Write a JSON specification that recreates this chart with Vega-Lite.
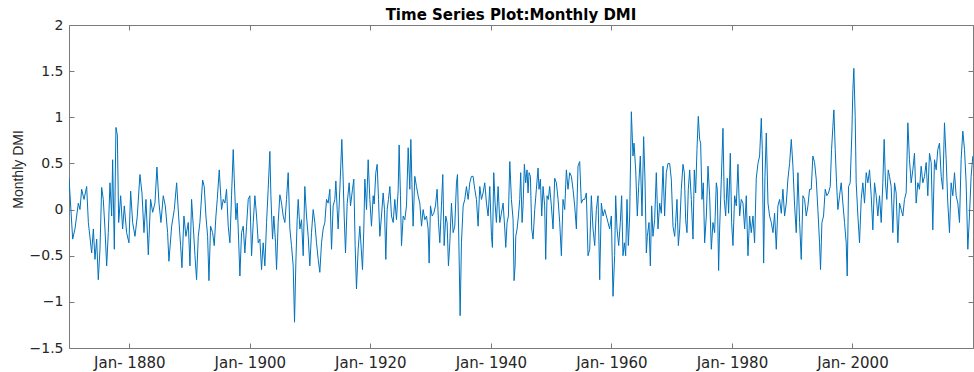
{
"$schema":"https://vega.github.io/schema/vega-lite/v6.json",
"width":904,"height":323,
"autosize":{"type":"none"},
"padding":{"left":69,"top":25,"right":1,"bottom":24},
"background":"white",
"config":{"view":{"stroke":null},"font":"DejaVu Sans"},
"title":{"text":"Time Series Plot:Monthly DMI","font":"DejaVu Sans","fontSize":15,"fontWeight":"bold","color":"#000000","anchor":"middle","dx":-10,"dy":21,"offset":4,"baseline":"alphabetic"},
"data":{"values":[
{"t":1870.0,"v":0.34},{"t":1870.61,"v":-0.32},{"t":1870.99,"v":-0.21},{"t":1871.55,"v":0.07},{"t":1871.82,"v":0.0},{"t":1872.1,"v":0.22},{"t":1872.49,"v":0.11},{"t":1872.93,"v":0.25},{"t":1873.21,"v":-0.14},{"t":1873.76,"v":-0.47},{"t":1874.04,"v":-0.21},{"t":1874.31,"v":-0.54},{"t":1874.59,"v":-0.32},{"t":1874.86,"v":-0.76},{"t":1875.14,"v":-0.43},{"t":1875.42,"v":0.24},{"t":1875.69,"v":0.11},{"t":1875.97,"v":-0.21},{"t":1876.25,"v":-0.61},{"t":1876.52,"v":-0.25},{"t":1876.8,"v":0.29},{"t":1877.08,"v":-0.07},{"t":1877.24,"v":0.54},{"t":1877.52,"v":-0.43},{"t":1877.79,"v":0.89},{"t":1878.02,"v":0.81},{"t":1878.24,"v":-0.14},{"t":1878.57,"v":0.15},{"t":1878.9,"v":-0.21},{"t":1879.18,"v":0.04},{"t":1879.56,"v":-0.25},{"t":1879.95,"v":-0.36},{"t":1880.23,"v":0.2},{"t":1880.56,"v":-0.14},{"t":1880.95,"v":-0.29},{"t":1881.33,"v":-0.07},{"t":1881.77,"v":0.38},{"t":1882.11,"v":0.18},{"t":1882.44,"v":-0.25},{"t":1882.77,"v":0.11},{"t":1883.16,"v":-0.49},{"t":1883.54,"v":0.11},{"t":1883.88,"v":-0.03},{"t":1884.26,"v":0.07},{"t":1884.59,"v":0.46},{"t":1884.93,"v":0.07},{"t":1885.26,"v":-0.14},{"t":1885.64,"v":0.15},{"t":1885.98,"v":0.04},{"t":1886.36,"v":-0.25},{"t":1886.58,"v":-0.56},{"t":1887.03,"v":-0.18},{"t":1887.47,"v":0.0},{"t":1887.86,"v":0.29},{"t":1888.19,"v":-0.07},{"t":1888.52,"v":-0.39},{"t":1888.74,"v":-0.63},{"t":1889.07,"v":-0.07},{"t":1889.4,"v":-0.29},{"t":1889.79,"v":-0.14},{"t":1890.07,"v":-0.61},{"t":1890.34,"v":0.11},{"t":1890.62,"v":-0.18},{"t":1890.9,"v":-0.5},{"t":1891.17,"v":-0.76},{"t":1891.45,"v":-0.29},{"t":1891.72,"v":-0.14},{"t":1892.17,"v":0.32},{"t":1892.44,"v":0.25},{"t":1892.72,"v":-0.07},{"t":1893.0,"v":-0.29},{"t":1893.22,"v":-0.77},{"t":1893.49,"v":-0.18},{"t":1893.83,"v":-0.25},{"t":1894.1,"v":-0.39},{"t":1894.38,"v":-0.07},{"t":1894.6,"v":0.11},{"t":1894.93,"v":0.43},
{"t":1895.31,"v":0.0},{"t":1895.59,"v":0.11},{"t":1895.87,"v":0.07},{"t":1896.14,"v":0.22},{"t":1896.42,"v":-0.18},{"t":1896.7,"v":-0.36},{"t":1896.97,"v":0.15},{"t":1897.25,"v":0.65},{"t":1897.42,"v":0.33},{"t":1897.69,"v":-0.11},{"t":1897.91,"v":0.07},{"t":1898.08,"v":-0.21},{"t":1898.36,"v":-0.72},{"t":1898.63,"v":-0.25},{"t":1898.91,"v":-0.18},{"t":1899.18,"v":-0.47},{"t":1899.46,"v":-0.18},{"t":1899.74,"v":0.11},{"t":1900.01,"v":0.15},{"t":1900.29,"v":-0.5},{"t":1900.57,"v":-0.14},{"t":1900.84,"v":0.15},{"t":1901.12,"v":-0.07},{"t":1901.4,"v":-0.36},{"t":1901.67,"v":-0.32},{"t":1901.95,"v":-0.65},{"t":1902.22,"v":-0.36},{"t":1902.5,"v":-0.61},{"t":1902.78,"v":-0.14},{"t":1903.05,"v":0.22},{"t":1903.33,"v":0.63},{"t":1903.5,"v":0.15},{"t":1903.77,"v":-0.32},{"t":1903.99,"v":-0.07},{"t":1904.27,"v":-0.36},{"t":1904.44,"v":-0.65},{"t":1904.71,"v":-0.14},{"t":1904.99,"v":0.16},{"t":1905.27,"v":0.07},{"t":1905.54,"v":-0.07},{"t":1905.82,"v":-0.14},{"t":1906.09,"v":0.11},{"t":1906.37,"v":0.4},{"t":1906.65,"v":-0.21},{"t":1906.92,"v":-0.39},{"t":1907.2,"v":-0.61},{"t":1907.42,"v":-1.22},{"t":1907.64,"v":-0.58},{"t":1907.86,"v":-0.11},{"t":1908.03,"v":0.11},{"t":1908.31,"v":-0.21},{"t":1908.58,"v":-0.11},{"t":1908.86,"v":-0.5},{"t":1909.13,"v":0.25},{"t":1909.41,"v":-0.07},{"t":1909.69,"v":-0.29},{"t":1909.96,"v":-0.61},{"t":1910.24,"v":-0.25},{"t":1910.52,"v":0.0},{"t":1910.79,"v":-0.14},{"t":1911.07,"v":-0.36},{"t":1911.35,"v":-0.54},{"t":1911.62,"v":-0.68},{"t":1911.9,"v":-0.36},{"t":1912.17,"v":-0.21},{"t":1912.45,"v":-0.14},{"t":1912.73,"v":0.11},{"t":1913.0,"v":0.07},{"t":1913.28,"v":0.22},{"t":1913.56,"v":-0.43},{"t":1913.83,"v":0.04},{"t":1914.11,"v":0.11},{"t":1914.28,"v":0.31},{"t":1914.5,"v":0.0},{"t":1914.66,"v":-0.21},{"t":1914.94,"v":0.22},{"t":1915.27,"v":0.76},{"t":1915.49,"v":0.33},{"t":1915.66,"v":-0.07},{"t":1915.88,"v":-0.47},{"t":1916.16,"v":0.07},{"t":1916.49,"v":0.29},{"t":1916.71,"v":0.04},{"t":1917.04,"v":0.22},{"t":1917.26,"v":0.33},{"t":1917.48,"v":-0.39},{"t":1917.7,"v":-0.86},{"t":1917.98,"v":-0.43},{"t":1918.26,"v":-0.18},
{"t":1918.7,"v":-0.65},{"t":1918.92,"v":-0.21},{"t":1919.09,"v":0.33},{"t":1919.37,"v":0.0},{"t":1919.64,"v":0.54},{"t":1919.92,"v":0.11},{"t":1920.19,"v":-0.18},{"t":1920.47,"v":0.15},{"t":1920.64,"v":0.06},{"t":1920.91,"v":0.4},{"t":1921.13,"v":0.49},{"t":1921.36,"v":0.11},{"t":1921.58,"v":-0.29},{"t":1921.85,"v":-0.07},{"t":1922.13,"v":0.18},{"t":1922.35,"v":0.0},{"t":1922.57,"v":-0.54},{"t":1922.79,"v":0.0},{"t":1923.01,"v":0.11},{"t":1923.24,"v":0.25},{"t":1923.51,"v":-0.07},{"t":1923.79,"v":-0.14},{"t":1924.06,"v":0.11},{"t":1924.34,"v":-0.11},{"t":1924.62,"v":0.22},{"t":1924.78,"v":0.7},{"t":1925.0,"v":0.15},{"t":1925.17,"v":-0.39},{"t":1925.45,"v":-0.07},{"t":1925.72,"v":-0.11},{"t":1926.0,"v":0.04},{"t":1926.28,"v":0.67},{"t":1926.55,"v":0.22},{"t":1926.72,"v":0.76},{"t":1926.94,"v":0.18},{"t":1927.1,"v":-0.18},{"t":1927.38,"v":0.36},{"t":1927.66,"v":0.25},{"t":1927.93,"v":0.15},{"t":1928.21,"v":0.07},{"t":1928.49,"v":-0.18},{"t":1928.76,"v":0.0},{"t":1929.04,"v":-0.11},{"t":1929.32,"v":-0.07},{"t":1929.59,"v":-0.21},{"t":1929.76,"v":-0.58},{"t":1929.98,"v":0.04},{"t":1930.26,"v":-0.07},{"t":1930.53,"v":-0.04},{"t":1930.81,"v":0.04},{"t":1931.08,"v":0.22},{"t":1931.31,"v":-0.14},{"t":1931.53,"v":-0.36},{"t":1931.8,"v":0.04},{"t":1932.02,"v":0.38},{"t":1932.25,"v":-0.39},{"t":1932.52,"v":-0.07},{"t":1932.74,"v":-0.14},{"t":1932.96,"v":-0.61},{"t":1933.19,"v":-0.36},{"t":1933.46,"v":0.07},{"t":1933.74,"v":-0.25},{"t":1934.01,"v":-0.18},{"t":1934.29,"v":0.29},{"t":1934.46,"v":0.38},{"t":1934.68,"v":-0.32},{"t":1934.9,"v":-1.15},{"t":1935.12,"v":-0.36},{"t":1935.4,"v":0.04},{"t":1935.67,"v":0.11},{"t":1935.95,"v":0.25},{"t":1936.23,"v":0.11},{"t":1936.5,"v":0.29},{"t":1936.78,"v":0.36},{"t":1937.05,"v":0.36},{"t":1937.33,"v":0.22},{"t":1937.61,"v":0.11},{"t":1937.88,"v":-0.18},{"t":1938.16,"v":0.25},{"t":1938.44,"v":0.11},{"t":1938.71,"v":0.18},{"t":1938.99,"v":0.29},{"t":1939.27,"v":0.07},{"t":1939.54,"v":-0.07},{"t":1939.82,"v":0.25},{"t":1940.1,"v":-0.29},{"t":1940.26,"v":-0.41},{"t":1940.48,"v":0.4},{"t":1940.7,"v":0.07},{"t":1940.92,"v":-0.14},{"t":1941.2,"v":0.25},{"t":1941.48,"v":-0.14},{"t":1941.75,"v":-0.04},{"t":1942.03,"v":0.07},{"t":1942.31,"v":-0.21},{"t":1942.47,"v":-0.41},{"t":1942.69,"v":-0.14},{"t":1942.91,"v":-0.07},{"t":1943.14,"v":0.52},{"t":1943.41,"v":0.11},{"t":1943.69,"v":-0.11},{"t":1943.85,"v":-0.77},{"t":1944.02,"v":-0.61},
{"t":1944.13,"v":-0.29},{"t":1944.35,"v":-0.21},{"t":1944.57,"v":-0.07},{"t":1944.79,"v":0.11},{"t":1944.95,"v":0.4},{"t":1945.18,"v":-0.14},{"t":1945.34,"v":0.04},{"t":1945.56,"v":0.49},{"t":1945.78,"v":0.29},{"t":1946.0,"v":0.43},{"t":1946.17,"v":0.18},{"t":1946.34,"v":0.4},{"t":1946.56,"v":0.36},{"t":1946.78,"v":-0.21},{"t":1947.0,"v":-0.32},{"t":1947.28,"v":0.0},{"t":1947.55,"v":0.22},{"t":1947.83,"v":0.45},{"t":1947.99,"v":0.22},{"t":1948.22,"v":0.33},{"t":1948.44,"v":-0.07},{"t":1948.66,"v":0.25},{"t":1948.93,"v":0.04},{"t":1949.1,"v":-0.54},{"t":1949.32,"v":0.15},{"t":1949.54,"v":0.11},{"t":1949.76,"v":0.25},{"t":1950.04,"v":0.04},{"t":1950.32,"v":-0.21},{"t":1950.59,"v":0.34},{"t":1950.87,"v":0.29},{"t":1951.15,"v":0.11},{"t":1951.42,"v":-0.14},{"t":1951.7,"v":-0.5},{"t":1951.97,"v":0.11},{"t":1952.25,"v":0.0},{"t":1952.53,"v":0.43},{"t":1952.8,"v":0.22},{"t":1953.08,"v":0.4},{"t":1953.36,"v":0.36},{"t":1953.63,"v":0.22},{"t":1953.91,"v":0.04},{"t":1954.19,"v":-0.21},{"t":1954.46,"v":0.47},{"t":1954.74,"v":0.52},{"t":1955.01,"v":0.07},{"t":1955.29,"v":0.11},{"t":1955.57,"v":0.11},{"t":1955.84,"v":0.18},{"t":1956.12,"v":-0.5},{"t":1956.4,"v":-0.43},{"t":1956.67,"v":0.15},{"t":1956.95,"v":-0.21},{"t":1957.23,"v":-0.39},{"t":1957.5,"v":0.0},{"t":1957.78,"v":0.15},{"t":1958.06,"v":-0.76},{"t":1958.33,"v":0.07},{"t":1958.61,"v":-0.07},{"t":1958.89,"v":0.0},{"t":1959.16,"v":-0.07},{"t":1959.44,"v":-0.14},{"t":1959.71,"v":-0.21},{"t":1959.99,"v":-0.07},{"t":1960.27,"v":-0.94},{"t":1960.54,"v":-0.5},{"t":1960.71,"v":0.15},{"t":1960.93,"v":-0.21},{"t":1961.21,"v":-0.39},{"t":1961.48,"v":-0.14},{"t":1961.7,"v":0.15},{"t":1961.92,"v":-0.5},{"t":1962.15,"v":-0.36},{"t":1962.37,"v":-0.5},{"t":1962.59,"v":0.11},{"t":1962.81,"v":-0.39},{"t":1963.03,"v":-0.07},{"t":1963.31,"v":1.06},{"t":1963.58,"v":0.58},{"t":1963.75,"v":0.72},{"t":1964.03,"v":0.43},{"t":1964.3,"v":-0.07},{"t":1964.52,"v":0.25},{"t":1964.8,"v":0.58},{"t":1965.08,"v":-0.07},{"t":1965.35,"v":0.79},{"t":1965.57,"v":0.33},{"t":1965.8,"v":-0.47},{"t":1965.96,"v":-0.29},{"t":1966.24,"v":-0.14},{"t":1966.46,"v":-0.61},{"t":1966.68,"v":0.04},{"t":1966.9,"v":-0.29},{"t":1967.18,"v":-0.11},{"t":1967.45,"v":0.4},{"t":1967.73,"v":-0.21},{"t":1968.01,"v":0.07},{"t":1968.28,"v":-0.04},{"t":1968.56,"v":0.47},{"t":1968.83,"v":-0.07},{"t":1969.11,"v":0.4},{"t":1969.39,"v":0.5},
{"t":1969.67,"v":0.5},{"t":1969.94,"v":0.33},{"t":1970.22,"v":-0.18},{"t":1970.5,"v":-0.29},{"t":1970.66,"v":-0.14},{"t":1970.88,"v":0.11},{"t":1971.11,"v":-0.39},{"t":1971.33,"v":-0.21},{"t":1971.6,"v":0.22},{"t":1971.88,"v":0.49},{"t":1972.1,"v":0.4},{"t":1972.32,"v":-0.11},{"t":1972.54,"v":-0.25},{"t":1972.76,"v":0.22},{"t":1972.99,"v":0.43},{"t":1973.26,"v":0.11},{"t":1973.54,"v":-0.32},{"t":1973.76,"v":0.43},{"t":1973.98,"v":0.18},{"t":1974.2,"v":0.65},{"t":1974.42,"v":1.01},{"t":1974.64,"v":0.76},{"t":1974.81,"v":0.72},{"t":1975.03,"v":0.11},{"t":1975.25,"v":0.29},{"t":1975.47,"v":-0.36},{"t":1975.75,"v":-0.07},{"t":1976.03,"v":0.47},{"t":1976.3,"v":0.15},{"t":1976.58,"v":-0.43},{"t":1976.85,"v":-0.14},{"t":1977.13,"v":-0.25},{"t":1977.41,"v":0.29},{"t":1977.57,"v":0.22},{"t":1977.79,"v":-0.66},{"t":1977.96,"v":-0.21},{"t":1978.24,"v":0.33},{"t":1978.51,"v":0.88},{"t":1978.73,"v":0.11},{"t":1978.96,"v":-0.07},{"t":1979.23,"v":0.34},{"t":1979.45,"v":-0.04},{"t":1979.73,"v":0.61},{"t":1979.95,"v":-0.14},{"t":1980.17,"v":-0.39},{"t":1980.45,"v":0.15},{"t":1980.72,"v":0.04},{"t":1981.0,"v":0.49},{"t":1981.28,"v":-0.07},{"t":1981.55,"v":0.11},{"t":1981.83,"v":0.07},{"t":1982.11,"v":-0.21},{"t":1982.38,"v":0.15},{"t":1982.66,"v":-0.5},{"t":1982.94,"v":-0.07},{"t":1983.21,"v":-0.25},{"t":1983.49,"v":-0.07},{"t":1983.76,"v":-0.36},{"t":1984.04,"v":0.34},{"t":1984.32,"v":0.5},{"t":1984.59,"v":0.58},{"t":1984.87,"v":0.99},{"t":1985.04,"v":0.65},{"t":1985.26,"v":-0.58},{"t":1985.48,"v":0.36},{"t":1985.7,"v":0.83},{"t":1985.98,"v":0.07},{"t":1986.25,"v":-0.07},{"t":1986.53,"v":-0.14},{"t":1986.81,"v":-0.25},{"t":1987.08,"v":-0.04},{"t":1987.36,"v":-0.43},{"t":1987.63,"v":0.04},{"t":1987.91,"v":0.11},{"t":1988.19,"v":-0.04},{"t":1988.46,"v":0.22},{"t":1988.74,"v":-0.07},{"t":1989.02,"v":0.07},{"t":1989.29,"v":0.33},{"t":1989.57,"v":0.5},{"t":1989.85,"v":0.76},{"t":1990.12,"v":0.47},{"t":1990.4,"v":0.04},{"t":1990.67,"v":-0.25},{"t":1990.95,"v":0.4},{"t":1991.23,"v":-0.14},{"t":1991.5,"v":-0.54},{"t":1991.78,"v":0.15},{"t":1992.06,"v":0.11},{"t":1992.33,"v":-0.07},{"t":1992.61,"v":0.04},{"t":1992.88,"v":0.22},
{"t":1993.16,"v":0.22},{"t":1993.43,"v":0.58},{"t":1993.71,"v":0.51},{"t":1993.99,"v":0.33},{"t":1994.26,"v":0.0},{"t":1994.54,"v":-0.36},{"t":1994.7,"v":-0.65},{"t":1994.93,"v":-0.14},{"t":1995.2,"v":-0.07},{"t":1995.48,"v":0.22},{"t":1995.75,"v":0.15},{"t":1996.03,"v":0.18},{"t":1996.31,"v":0.25},{"t":1996.53,"v":0.65},{"t":1996.75,"v":0.9},{"t":1996.92,"v":1.08},{"t":1997.14,"v":0.65},{"t":1997.36,"v":0.29},{"t":1997.58,"v":0.0},{"t":1997.86,"v":0.15},{"t":1998.13,"v":0.29},{"t":1998.41,"v":0.07},{"t":1998.68,"v":-0.14},{"t":1998.96,"v":-0.36},{"t":1999.13,"v":-0.72},{"t":1999.35,"v":0.25},{"t":1999.62,"v":0.29},{"t":1999.9,"v":0.83},{"t":2000.07,"v":1.3},{"t":2000.23,"v":1.53},{"t":2000.45,"v":1.01},{"t":2000.62,"v":0.29},{"t":2000.9,"v":-0.07},{"t":2001.17,"v":-0.36},{"t":2001.45,"v":0.11},{"t":2001.72,"v":0.29},{"t":2002.0,"v":0.07},{"t":2002.28,"v":0.4},{"t":2002.55,"v":0.29},{"t":2002.83,"v":0.43},{"t":2003.11,"v":0.15},{"t":2003.38,"v":-0.22},{"t":2003.66,"v":0.29},{"t":2003.94,"v":0.15},{"t":2004.21,"v":-0.07},{"t":2004.49,"v":0.15},{"t":2004.77,"v":-0.14},{"t":2005.04,"v":0.29},{"t":2005.26,"v":0.76},{"t":2005.48,"v":0.29},{"t":2005.7,"v":0.11},{"t":2005.93,"v":0.43},{"t":2006.15,"v":0.36},{"t":2006.42,"v":0.25},{"t":2006.7,"v":-0.25},{"t":2006.98,"v":0.29},{"t":2007.25,"v":0.18},{"t":2007.53,"v":-0.36},{"t":2007.81,"v":0.07},{"t":2008.08,"v":0.0},{"t":2008.36,"v":-0.07},{"t":2008.63,"v":0.11},{"t":2008.91,"v":0.18},{"t":2009.19,"v":0.94},{"t":2009.46,"v":0.54},{"t":2009.74,"v":0.29},{"t":2010.02,"v":0.43},{"t":2010.29,"v":0.61},{"t":2010.57,"v":0.07},{"t":2010.85,"v":0.29},{"t":2011.12,"v":0.22},{"t":2011.4,"v":0.47},{"t":2011.68,"v":0.29},{"t":2011.95,"v":0.36},{"t":2012.23,"v":0.51},{"t":2012.5,"v":0.15},{"t":2012.78,"v":0.61},{"t":2013.06,"v":0.51},{"t":2013.33,"v":-0.22},{"t":2013.61,"v":0.54},{"t":2013.89,"v":0.43},{"t":2014.16,"v":0.65},{"t":2014.44,"v":0.72},{"t":2014.72,"v":0.36},{"t":2014.99,"v":0.22},{"t":2015.27,"v":0.94},{"t":2015.55,"v":0.54},{"t":2015.82,"v":0.07},{"t":2016.1,"v":-0.25},{"t":2016.37,"v":0.29},{"t":2016.65,"v":0.15},{"t":2016.93,"v":0.4},{"t":2017.2,"v":0.15},{"t":2017.48,"v":0.07},{"t":2017.76,"v":-0.14},{"t":2018.03,"v":0.54},{"t":2018.31,"v":0.85},{"t":2018.59,"v":0.65},{"t":2018.86,"v":0.29},{"t":2019.14,"v":-0.43},{"t":2019.41,"v":-0.07},{"t":2019.69,"v":0.36},{"t":2019.97,"v":0.58}
]},
"layer":[
{"mark":{"type":"line","strokeOpacity":0,"clip":true},
 "encoding":{
  "x":{"field":"t","type":"quantitative","scale":{"domain":[1870,2020],"nice":false,"zero":false},
   "axis":{"orient":"top","values":[1880,1900,1920,1940,1960,1980,2000],"labels":false,"title":null,"grid":false,"tickSize":-5,"domainColor":"#7a7a7a","tickColor":"#7a7a7a","domainWidth":1,"tickWidth":1}},
  "y":{"field":"v","type":"quantitative","scale":{"domain":[-1.5,2],"nice":false,"zero":false},
   "axis":{"orient":"right","values":[-1.5,-1,-0.5,0,0.5,1,1.5,2],"labels":false,"title":null,"grid":false,"tickSize":-5,"domainColor":"#7a7a7a","tickColor":"#7a7a7a","domainWidth":1,"tickWidth":1}}
 }},
{"mark":{"type":"line","color":"#0072BD","strokeWidth":1,"clip":true},
 "encoding":{
  "x":{"field":"t","type":"quantitative","scale":{"domain":[1870,2020],"nice":false,"zero":false},
   "axis":{"orient":"bottom","values":[1880,1900,1920,1940,1960,1980,2000],"labelExpr":"'Jan- ' + datum.value","labelFlush":false,"labelOverlap":false,"title":null,"grid":false,"tickSize":-5,"labelPadding":12.5,"labelFont":"DejaVu Sans","labelFontSize":15,"labelColor":"#262626","domainColor":"#7a7a7a","tickColor":"#7a7a7a","domainWidth":1,"tickWidth":1}},
  "y":{"field":"v","type":"quantitative","scale":{"domain":[-1.5,2],"nice":false,"zero":false},
   "axis":{"orient":"left","values":[-1.5,-1,-0.5,0,0.5,1,1.5,2],"format":"~g","labelFlush":false,"labelOverlap":false,"grid":false,"tickSize":-5,"labelPadding":11,"labelFont":"DejaVu Sans","labelFontSize":14,"labelColor":"#262626","domainColor":"#7a7a7a","tickColor":"#7a7a7a","domainWidth":1,"tickWidth":1,
    "title":"Monthly DMI","titleFont":"Liberation Sans Narrow, Liberation Sans","titleFontSize":14,"titleFontWeight":"normal","titleColor":"#262626","titleAngle":-90,"titleX":-51,"titleY":144,"titleAlign":"center","titleBaseline":"middle"}}
 }}
],
"resolve":{"axis":{"x":"independent","y":"independent"}}
}
